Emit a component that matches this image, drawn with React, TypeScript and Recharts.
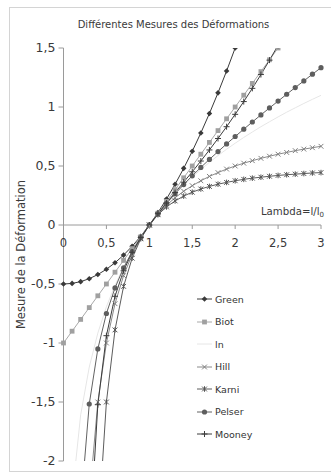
import React from 'react';
import { LineChart, Line, XAxis, YAxis, ReferenceLine, Legend } from 'recharts';

// ---------- data ----------
const lambda = [0, 0.1, 0.2, 0.3, 0.4, 0.5, 0.6, 0.7, 0.8, 0.9, 1, 1.1, 1.2, 1.3, 1.4, 1.5, 1.6, 1.7, 1.8, 1.9, 2, 2.1, 2.2, 2.3, 2.4, 2.5, 2.6, 2.7, 2.8, 2.9, 3];

const green = [-0.5, -0.495, -0.48, -0.455, -0.42, -0.375, -0.32, -0.255, -0.18, -0.095, 0, 0.105, 0.22, 0.345, 0.48, 0.625, 0.78, 0.945, 1.12, 1.305, 1.5, null, null, null, null, null, null, null, null, null, null];
const biot = [-1, -0.9, -0.8, -0.7, -0.6, -0.5, -0.4, -0.3, -0.2, -0.1, 0, 0.1, 0.2, 0.3, 0.4, 0.5, 0.6, 0.7, 0.8, 0.9, 1, 1.1, 1.2, 1.3, 1.4, 1.5, null, null, null, null, null];
const ln = [null, -2.303, -1.609, -1.204, -0.916, -0.693, -0.511, -0.357, -0.223, -0.105, 0, 0.095, 0.182, 0.262, 0.336, 0.405, 0.47, 0.531, 0.588, 0.642, 0.693, 0.742, 0.788, 0.833, 0.875, 0.916, 0.956, 0.993, 1.03, 1.065, 1.099];
const hill = [null, null, null, -2.333, -1.5, -1, -0.667, -0.429, -0.25, -0.111, 0, 0.091, 0.167, 0.231, 0.286, 0.333, 0.375, 0.412, 0.444, 0.474, 0.5, 0.524, 0.545, 0.565, 0.583, 0.6, 0.615, 0.63, 0.643, 0.655, 0.667];
const karni = [null, null, null, null, -2.625, -1.5, -0.889, -0.52, -0.281, -0.117, 0, 0.087, 0.153, 0.204, 0.245, 0.278, 0.305, 0.327, 0.346, 0.361, 0.375, 0.387, 0.397, 0.405, 0.413, 0.42, 0.426, 0.431, 0.436, 0.441, 0.444];
const pelser = [null, null, -2.4, -1.517, -1.05, -0.75, -0.533, -0.364, -0.225, -0.106, 0, 0.095, 0.183, 0.265, 0.343, 0.417, 0.488, 0.556, 0.622, 0.687, 0.75, 0.812, 0.873, 0.933, 0.992, 1.05, 1.108, 1.165, 1.221, 1.278, 1.333];
const mooney = [null, null, null, -2.755, -1.523, -0.938, -0.604, -0.388, -0.231, -0.106, 0, 0.096, 0.186, 0.275, 0.363, 0.451, 0.542, 0.636, 0.733, 0.833, 0.938, 1.046, 1.158, 1.275, 1.397, 1.523, null, null, null, null, null];

const xTicks = [0, 0.5, 1, 1.5, 2, 2.5, 3];
const yTicks = [-2, -1.5, -1, -0.5, 0, 0.5, 1, 1.5];

const title = 'Différentes Mesures des Déformations';
const yTitle = 'Mesure de la Déformation';
const xTitle = 'Lambda=l/l';
const xTitleSub = '0';

const data = lambda.map((x, i) => ({
  x,
  green: green[i],
  biot: biot[i],
  ln: ln[i],
  hill: hill[i],
  karni: karni[i],
  pelser: pelser[i],
  mooney: mooney[i],
}));

// ---------- styling ----------
const FONT = "'DejaVu Sans', Verdana, sans-serif";
const W = 331;
const H = 475;
const X_AXIS_H = 14;
const MARGIN = { top: 48, right: 10, bottom: 0, left: 23.5 };
const Y_AXIS_W = 40;
const Y_MIN = -2;
const Y_MAX = 1.5;
const PLOT_H = H - MARGIN.top - MARGIN.bottom - X_AXIS_H;
const ZERO_Y = MARGIN.top + (PLOT_H * (Y_MAX - 0)) / (Y_MAX - Y_MIN);

type Kind = 'diamond' | 'square' | 'none' | 'cross' | 'star' | 'circle' | 'plus';

const series: { key: string; name: string; color: string; marker: Kind; markerColor: string }[] = [
  { key: 'green', name: 'Green', color: '#3a3a3a', marker: 'diamond', markerColor: '#3a3a3a' },
  { key: 'biot', name: 'Biot', color: '#a8a8a8', marker: 'square', markerColor: '#a0a0a0' },
  { key: 'ln', name: 'ln', color: '#e6e6e6', marker: 'none', markerColor: '#e6e6e6' },
  { key: 'hill', name: 'Hill', color: '#8a8a8a', marker: 'cross', markerColor: '#808080' },
  { key: 'karni', name: 'Karni', color: '#5c5c5c', marker: 'star', markerColor: '#555555' },
  { key: 'pelser', name: 'Pelser', color: '#626262', marker: 'circle', markerColor: '#5e5e5e' },
  { key: 'mooney', name: 'Mooney', color: '#3c3c3c', marker: 'plus', markerColor: '#3c3c3c' },
];

const fmt = (v: number) => String(v).replace('.', ',');

function Marker({ cx, cy, kind, color }: { cx: number; cy: number; kind: Kind; color: string }) {
  switch (kind) {
    case 'diamond':
      return <polygon points={`${cx},${cy - 2.8} ${cx + 2.8},${cy} ${cx},${cy + 2.8} ${cx - 2.8},${cy}`} fill={color} />;
    case 'square':
      return <rect x={cx - 2.4} y={cy - 2.4} width={4.8} height={4.8} fill={color} />;
    case 'cross':
      return (
        <path
          d={`M${cx - 2.4},${cy - 2.4}L${cx + 2.4},${cy + 2.4}M${cx - 2.4},${cy + 2.4}L${cx + 2.4},${cy - 2.4}`}
          stroke={color}
          strokeWidth={1}
          fill="none"
        />
      );
    case 'star':
      return (
        <path
          d={`M${cx - 2.4},${cy - 2.4}L${cx + 2.4},${cy + 2.4}M${cx - 2.4},${cy + 2.4}L${cx + 2.4},${cy - 2.4}M${cx},${cy - 2.8}L${cx},${cy + 2.8}`}
          stroke={color}
          strokeWidth={1}
          fill="none"
        />
      );
    case 'circle':
      return <circle cx={cx} cy={cy} r={2.6} fill={color} />;
    case 'plus':
      return (
        <path d={`M${cx - 3},${cy}L${cx + 3},${cy}M${cx},${cy - 3}L${cx},${cy + 3}`} stroke={color} strokeWidth={1} fill="none" />
      );
    default:
      return <g />;
  }
}

const makeDot = (kind: Kind, color: string, key: string) => (p: any) => {
  const k = `${key}-${p.index}`;
  if (p.value == null || p.cx == null || p.cy == null || kind === 'none') return <g key={k} />;
  return (
    <g key={k}>
      <Marker cx={p.cx} cy={p.cy} kind={kind} color={color} />
    </g>
  );
};

const XTick = (props: any) => {
  const { x, payload } = props;
  const v = payload.value;
  return (
    <g>
      <line x1={x} x2={x} y1={ZERO_Y} y2={ZERO_Y + 4} stroke="#9a9a9a" />
      <text x={x} y={ZERO_Y + 21.5} textAnchor="middle" fontSize={11.5} fill="#3a3a3a" fontFamily={FONT}>
        {fmt(v)}
      </text>
      {v === xTicks[xTicks.length - 1] && (
        <text x={x + 3} y={ZERO_Y - 10} textAnchor="end" fontSize={10.2} fill="#3a3a3a" fontFamily={FONT}>
          {xTitle}
          <tspan fontSize={7} dy={2}>
            {xTitleSub}
          </tspan>
        </text>
      )}
    </g>
  );
};

const YLabel = (props: any) => {
  const vb = props.viewBox || {};
  const cx = (vb.x ?? MARGIN.left) - 2.5;
  const cy = (vb.y ?? MARGIN.top) + (vb.height ?? PLOT_H) / 2;
  return (
    <text
      x={cx}
      y={cy}
      transform={`rotate(-90 ${cx} ${cy})`}
      textAnchor="middle"
      dominantBaseline="central"
      fontSize={11.5}
      fill="#3a3a3a"
      fontFamily={FONT}
    >
      {yTitle}
    </text>
  );
};

const LegendContent = () => (
  <div style={{ fontFamily: FONT, fontSize: 9.5, color: '#333' }}>
    {series.map((s) => (
      <div key={s.key} style={{ height: 22.5, display: 'flex', alignItems: 'center' }}>
        <svg width={17} height={10} style={{ display: 'block' }}>
          <line x1={0} x2={15} y1={5} y2={5} stroke={s.color} strokeWidth={1} />
          <Marker cx={7.5} cy={5} kind={s.marker} color={s.markerColor} />
        </svg>
        <span style={{ marginLeft: 1 }}>{s.name}</span>
      </div>
    ))}
  </div>
);

export default function App() {
  return (
    <div style={{ position: 'absolute', left: 0, top: 0, width: W, height: H, overflow: 'hidden', background: '#fff' }}>
      <div
        style={{
          position: 'absolute',
          left: 9,
          top: 7,
          width: 322,
          height: 465,
          border: '1px solid #d4d4d4',
          borderRight: 'none',
          boxSizing: 'border-box',
        }}
      />
      <div
        style={{
          position: 'absolute',
          left: 0,
          top: 19,
          width: 347,
          textAlign: 'center',
          fontFamily: FONT,
          fontSize: 10,
          lineHeight: '12px',
          color: '#3a3a3a',
          whiteSpace: 'nowrap',
        }}
      >
        {title}
      </div>
      <div style={{ position: 'absolute', left: 0, top: 0 }}>
        <LineChart width={W} height={H} data={data} margin={MARGIN}>
          <ReferenceLine y={0} stroke="#9a9a9a" strokeWidth={1} ifOverflow="visible" />
          <XAxis
            type="number"
            dataKey="x"
            domain={[0, 3]}
            ticks={xTicks}
            interval={0}
            height={X_AXIS_H}
            axisLine={false}
            tickLine={false}
            tick={(p: any) => <XTick {...p} />}
          />
          <YAxis
            type="number"
            domain={[Y_MIN, Y_MAX]}
            ticks={yTicks}
            interval={0}
            allowDataOverflow
            width={Y_AXIS_W}
            axisLine={{ stroke: '#9a9a9a' }}
            tickLine={{ stroke: '#9a9a9a' }}
            tickSize={5}
            tickMargin={3}
            tick={{ fontSize: 12.5, fill: '#3a3a3a', fontFamily: FONT }}
            tickFormatter={fmt}
            label={(p: any) => <YLabel {...p} />}
          />
          {series.map((s) => (
            <Line
              key={s.key}
              dataKey={s.key}
              name={s.name}
              type="linear"
              stroke={s.color}
              strokeWidth={1}
              dot={makeDot(s.marker, s.markerColor, s.key)}
              activeDot={false}
              isAnimationActive={false}
              connectNulls={false}
            />
          ))}
          <Legend
            layout="vertical"
            align="center"
            verticalAlign="middle"
            content={() => <LegendContent />}
            wrapperStyle={{ left: 197, top: 288, width: 90, height: 'auto' }}
          />
        </LineChart>
      </div>
    </div>
  );
}
